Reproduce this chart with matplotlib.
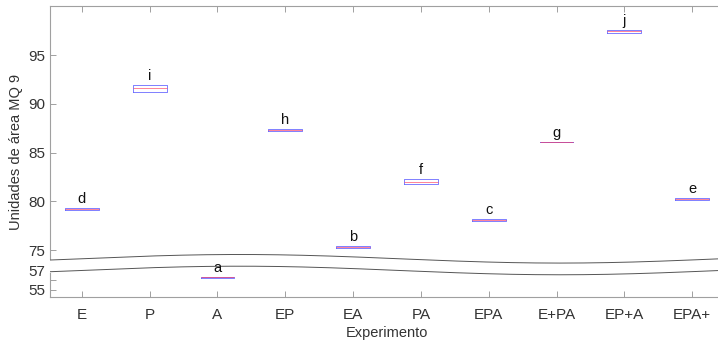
import matplotlib
matplotlib.use('Agg')
import matplotlib.pyplot as plt
import numpy as np

plt.rcParams['font.family'] = ['Liberation Sans', 'DejaVu Sans']

experiments = ['E', 'P', 'A', 'EP', 'EA', 'PA', 'EPA', 'E+PA', 'EP+A', 'EPA+']
q1 = [79.15, 91.2, 56.28, 87.2, 75.25, 81.8, 78.02, 86.05, 97.26, 80.15]
medians = [79.25, 91.6, 56.32, 87.3, 75.3, 82.0, 78.08, 86.05, 97.45, 80.22]
q3 = [79.35, 91.95, 56.36, 87.45, 75.38, 82.25, 78.14, 86.05, 97.6, 80.3]
letters = ['d', 'i', 'a', 'h', 'b', 'f', 'c', 'g', 'j', 'e']

# broken axis: values below the break get shifted up
BREAK = 60
OFFSET = 15.9

def shift(v):
    return v + OFFSET if v < BREAK else v

BLUE = '#6a6aff'
RED = '#ff4060'
AXIS_C = '#a0a0a0'
TEXT_C = '#333333'

fig = plt.figure(figsize=(7.18, 3.43), dpi=100)
ax = fig.add_axes([50 / 718, 46 / 343, 674 / 718, 291 / 343])

stats = []
for i, name in enumerate(experiments):
    lo, med, hi = shift(q1[i]), shift(medians[i]), shift(q3[i])
    stats.append(dict(med=med, q1=lo, q3=hi, whislo=lo, whishi=hi,
                      fliers=[], label=name))

ax.bxp(stats, positions=np.arange(1, len(experiments) + 1), widths=0.5,
       showfliers=False, showcaps=False,
       boxprops=dict(color=BLUE, linewidth=0.6),
       medianprops=dict(color=RED, linewidth=0.7, alpha=0.65),
       whiskerprops=dict(color='black', linewidth=0.5))

for i, let in enumerate(letters):
    ax.annotate(let, (i + 1, shift(q3[i])), xytext=(0, 1.5),
                textcoords='offset points', ha='center', va='bottom',
                fontsize=10.5, color='#111111', zorder=6)

ax.set_xlim(0.53, 10.47)
ax.set_ylim(70.18, 100.03)

yt_real = [55, 56, 57, 75, 80, 85, 90, 95]
yt_lab = ['55', '', '57', '75', '80', '85', '90', '95']
ax.set_yticks([shift(v) for v in yt_real])
ax.set_yticklabels(yt_lab)

ax.tick_params(direction='in', length=4.5, width=0.7, color=AXIS_C,
               labelcolor=TEXT_C, labelsize=11, top=True, right=True)
ax.tick_params(axis='x', pad=8)
for sp in ax.spines.values():
    sp.set_color(AXIS_C)
    sp.set_linewidth(0.8)

ax.set_xlabel('Experimento', fontsize=10.5, color=TEXT_C, labelpad=3)
ax.set_ylabel('Unidades de área MQ 9', fontsize=10.5, color=TEXT_C, labelpad=4)

# wavy break marks
xs = np.linspace(0.51, 10.6, 400)
upper = 74.1 + 0.44 * np.cos(2 * np.pi * (xs - 3.33) / 9.44)
lower = upper - 1.2
ax.fill_between(xs, lower, upper, color='white', zorder=3, clip_on=False)
ax.plot(xs, upper, color='#555555', lw=0.7, zorder=4)
ax.plot(xs, lower, color='#555555', lw=0.7, zorder=4)

fig.savefig('out.png', dpi=100, facecolor='white')
